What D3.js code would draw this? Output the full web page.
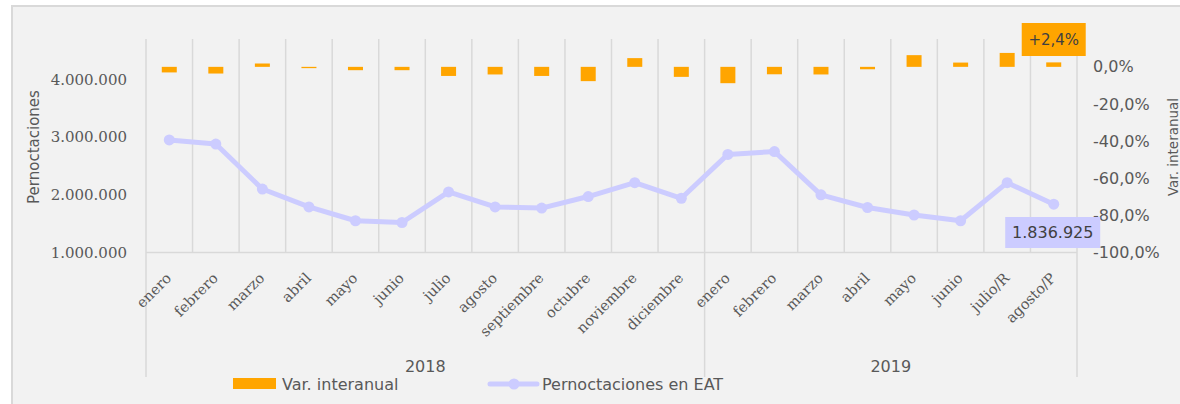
<!DOCTYPE html>
<html>
<head>
<meta charset="utf-8">
<script src="https://cdn.jsdelivr.net/npm/d3@7"></script>
<style>
  body { margin: 0; background: #ffffff; }
  svg { display: block; }
</style>
</head>
<body>
<div id="chart"></div>
<script>
// Data
var months = ["enero", "febrero", "marzo", "abril", "mayo", "junio", "julio", "agosto",
  "septiembre", "octubre", "noviembre", "diciembre",
  "enero", "febrero", "marzo", "abril", "mayo", "junio", "julio/R", "agosto/P"];
var years = ["2018", "2019"];
var monthsPerYear = [12, 8];

// Pernoctaciones en EAT (left axis)
var pernoctaciones = [2950000, 2880000, 2100000, 1790000, 1550000, 1520000, 2050000, 1790000,
  1770000, 1970000, 2210000, 1940000,
  2700000, 2750000, 2000000, 1780000, 1650000, 1550000, 2210000, 1836925];

// Var. interanual in % (right axis)
var varInteranual = [-3.0, -3.6, 1.8, -0.7, -1.8, -1.8, -4.9, -4.1, -4.9, -7.7, 4.7, -5.4,
  -8.8, -4.0, -4.1, -1.3, 6.3, 2.3, 7.5, 2.4];

var leftTicks = [1000000, 2000000, 3000000, 4000000];
var rightTicks = [0, -20, -40, -60, -80, -100];

var svgWidth = 1180;
var svgHeight = 404;

// plot area
var plot = { left: 146, right: 1077, top: 39, bottom: 252.5 };

var svg = d3.select("#chart")
  .append("svg")
  .attr("width", svgWidth)
  .attr("height", svgHeight)
  .style("font-family", "'DejaVu Sans', sans-serif");

// chart background with border
svg.append("rect")
  .attr("x", 12).attr("y", 6)
  .attr("width", svgWidth + 10).attr("height", svgHeight + 10)
  .attr("fill", "#f2f2f2")
  .attr("stroke", "#d9d9d9")
  .attr("stroke-width", 2);

var x = d3.scaleBand()
  .domain(d3.range(months.length))
  .range([plot.left, plot.right]);

var yLeft = d3.scaleLinear()
  .domain([1000000, 4700000])
  .range([plot.bottom, plot.top]);

var yRight = d3.scaleLinear()
  .domain([-100, 15])
  .range([plot.bottom, plot.top]);

var grid = "#d9d9d9";

// category gridlines
svg.append("g")
  .selectAll("line")
  .data(d3.range(1, months.length))
  .enter()
  .append("line")
  .attr("x1", d => x(d)).attr("x2", d => x(d))
  .attr("y1", plot.top).attr("y2", plot.bottom)
  .attr("stroke", grid)
  .attr("stroke-width", 1.5);

// group separators (year level) reaching down
var yearBounds = [0];
monthsPerYear.forEach(function(n, i) { yearBounds.push(yearBounds[i] + n); });

svg.append("g")
  .selectAll("line")
  .data(yearBounds)
  .enter()
  .append("line")
  .attr("x1", d => d === months.length ? plot.right : x(d))
  .attr("x2", d => d === months.length ? plot.right : x(d))
  .attr("y1", d => (d === 0 || d === months.length) ? plot.top : plot.bottom)
  .attr("y2", 377)
  .attr("stroke", grid)
  .attr("stroke-width", 1.5);

// category axis line
svg.append("line")
  .attr("x1", plot.left).attr("x2", plot.right)
  .attr("y1", plot.bottom).attr("y2", plot.bottom)
  .attr("stroke", grid)
  .attr("stroke-width", 1.5);

// left axis
var fmtDots = d => d3.format(",")(d).replace(/,/g, ".");
var leftAxis = d3.axisLeft(yLeft)
  .tickValues(leftTicks)
  .tickFormat(fmtDots)
  .tickSize(0)
  .tickPadding(19);

var gLeft = svg.append("g")
  .attr("transform", `translate(${plot.left}, 0)`)
  .call(leftAxis);
gLeft.select(".domain").remove();
gLeft.selectAll("text")
  .attr("fill", "#595959")
  .style("font-family", "'DejaVu Serif', serif")
  .style("font-size", "15px");

// right axis
var rightAxis = d3.axisRight(yRight)
  .tickValues(rightTicks)
  .tickFormat(d => d3.format(".1f")(d).replace(".", ",").replace("−", "-") + "%")
  .tickSize(0)
  .tickPadding(16);

var gRight = svg.append("g")
  .attr("transform", `translate(${plot.right}, 0)`)
  .call(rightAxis);
gRight.select(".domain").remove();
gRight.selectAll("text")
  .attr("fill", "#595959")
  .style("font-family", "'DejaVu Sans', sans-serif")
  .style("font-size", "16px");

// axis titles
svg.append("text")
  .attr("transform", "translate(39, 147) rotate(-90)")
  .attr("text-anchor", "middle")
  .attr("fill", "#595959")
  .style("font-size", "15px")
  .text("Pernoctaciones");

svg.append("text")
  .attr("transform", "translate(1178, 147) rotate(-90)")
  .attr("text-anchor", "middle")
  .attr("fill", "#595959")
  .style("font-size", "13.5px")
  .text("Var. interanual");

// bars: Var. interanual
var barW = 15;
svg.append("g")
  .selectAll("rect")
  .data(varInteranual)
  .enter()
  .append("rect")
  .attr("x", (d, i) => x(i) + x.bandwidth() / 2 - barW / 2)
  .attr("y", d => yRight(Math.max(0, d)))
  .attr("width", barW)
  .attr("height", d => Math.abs(yRight(d) - yRight(0)))
  .attr("fill", "#ffa500");

// line: Pernoctaciones
var lineColor = "#ccccff";
var line = d3.line()
  .x((d, i) => x(i) + x.bandwidth() / 2)
  .y(d => yLeft(d));

svg.append("path")
  .datum(pernoctaciones)
  .attr("d", line)
  .attr("fill", "none")
  .attr("stroke", lineColor)
  .attr("stroke-width", 5)
  .attr("stroke-linejoin", "round");

svg.append("g")
  .selectAll("circle")
  .data(pernoctaciones)
  .enter()
  .append("circle")
  .attr("cx", (d, i) => x(i) + x.bandwidth() / 2)
  .attr("cy", d => yLeft(d))
  .attr("r", 5.5)
  .attr("fill", lineColor);

// month labels
svg.append("g")
  .selectAll("text")
  .data(months)
  .enter()
  .append("text")
  .attr("transform", (d, i) => `translate(${x(i) + x.bandwidth() / 2 + 3}, 279) rotate(-45)`)
  .attr("text-anchor", "end")
  .attr("fill", "#595959")
  .style("font-family", "'DejaVu Serif', serif")
  .style("font-size", "14.5px")
  .text(d => d);

// year labels
svg.append("g")
  .selectAll("text")
  .data(years)
  .enter()
  .append("text")
  .attr("x", (d, i) => {
    var a = yearBounds[i], b = yearBounds[i + 1];
    var xa = x(a);
    var xb = b === months.length ? plot.right : x(b);
    return (xa + xb) / 2;
  })
  .attr("y", 372)
  .attr("text-anchor", "middle")
  .attr("fill", "#595959")
  .style("font-size", "16px")
  .text(d => d);

// data labels for last point
var last = months.length - 1;
var cxLast = x(last) + x.bandwidth() / 2;

var barLabel = svg.append("g")
  .attr("transform", `translate(${cxLast}, 40)`);
barLabel.append("rect")
  .attr("x", -32).attr("y", -17)
  .attr("width", 64).attr("height", 33)
  .attr("fill", "#ffa500");
barLabel.append("text")
  .attr("text-anchor", "middle")
  .attr("dy", "0.35em")
  .attr("fill", "#404040")
  .style("font-size", "15px")
  .text("+" + d3.format(".1f")(varInteranual[last]).replace(".", ",") + "%");

var lineLabel = svg.append("g")
  .attr("transform", `translate(${cxLast - 1}, 232.5)`);
lineLabel.append("rect")
  .attr("x", -47.5).attr("y", -15.5)
  .attr("width", 95).attr("height", 31)
  .attr("fill", lineColor);
lineLabel.append("text")
  .attr("text-anchor", "middle")
  .attr("dy", "0.35em")
  .attr("fill", "#404040")
  .style("font-size", "16px")
  .text(fmtDots(pernoctaciones[last]));

// legend
var legend = svg.append("g");
legend.append("rect")
  .attr("x", 233).attr("y", 378)
  .attr("width", 43).attr("height", 11)
  .attr("fill", "#ffa500");
legend.append("text")
  .attr("x", 282).attr("y", 390)
  .attr("fill", "#595959")
  .style("font-size", "16px")
  .text("Var. interanual");

legend.append("line")
  .attr("x1", 490).attr("x2", 537)
  .attr("y1", 384).attr("y2", 384)
  .attr("stroke", lineColor)
  .attr("stroke-width", 5)
  .attr("stroke-linecap", "round");
legend.append("circle")
  .attr("cx", 514).attr("cy", 384)
  .attr("r", 5.5)
  .attr("fill", lineColor);
legend.append("text")
  .attr("x", 542).attr("y", 390)
  .attr("fill", "#595959")
  .style("font-size", "16px")
  .text("Pernoctaciones en EAT");
</script>
</body>
</html>
